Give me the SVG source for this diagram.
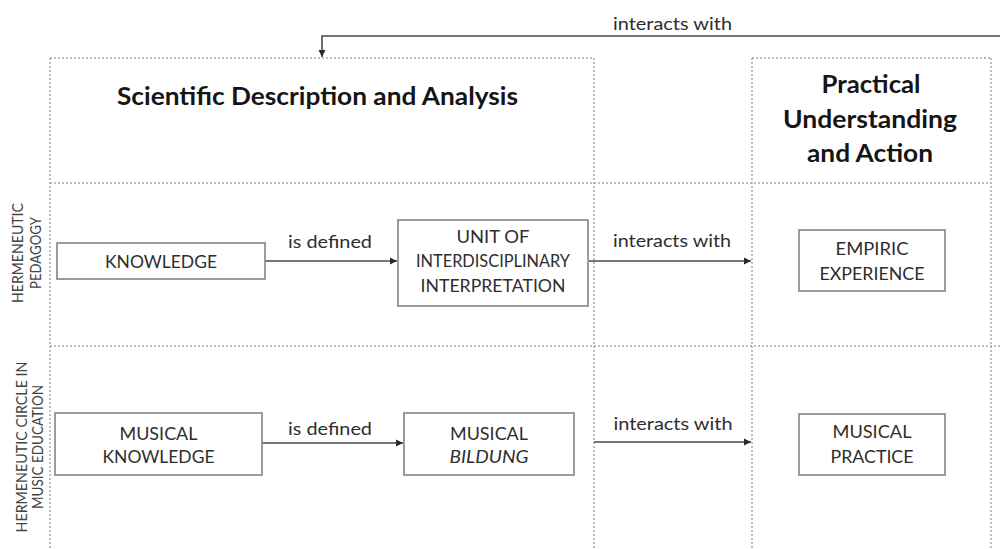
<svg xmlns="http://www.w3.org/2000/svg" width="1000" height="549" viewBox="0 0 1000 549">
<style>
.grid{stroke:#a4a9b4;stroke-width:1.5;stroke-dasharray:2 2;fill:none}
.box{fill:#fff;stroke:#868b96;stroke-width:1.7}
.conn{stroke:#4a4a4a;stroke-width:1.6;fill:none}
.t{font-family:Lato,"Open Sans","Liberation Sans",sans-serif;text-anchor:middle}
.title{font-size:25px;font-weight:bold;fill:#151515}
.node{font-size:18px;fill:#2e2e2e}
.lab{font-size:18px;fill:#2e2e2e}
.side{font-size:15px;fill:#444}
</style>
<defs>
<marker id="ah" markerUnits="userSpaceOnUse" markerWidth="10" markerHeight="10" refX="7" refY="4" orient="auto">
<path d="M0,0.5 L7,4 L0,7.5 Z" fill="#2a2a2a"/>
</marker>
</defs>
<rect width="1000" height="549" fill="#fff"/>
<g id="grid">
<line class="grid" x1="50" y1="58" x2="594" y2="58"/>
<line class="grid" x1="752" y1="58" x2="991" y2="58"/>
<line class="grid" x1="50" y1="183" x2="991" y2="183"/>
<line class="grid" x1="50" y1="346" x2="1000" y2="346"/>
<line class="grid" x1="50" y1="58" x2="50" y2="549"/>
<line class="grid" x1="594" y1="58" x2="594" y2="549"/>
<line class="grid" x1="752" y1="58" x2="752" y2="549"/>
<line class="grid" x1="991" y1="58" x2="991" y2="549"/>
</g>
<g id="title-scientific">
<text class="t title" x="317.5" y="105" textLength="401" lengthAdjust="spacingAndGlyphs">Scientific Description and Analysis</text>
</g>
<g id="title-practical">
<text class="t title" x="871" y="93" textLength="99" lengthAdjust="spacingAndGlyphs">Practical</text>
<text class="t title" x="870" y="128" textLength="174" lengthAdjust="spacingAndGlyphs">Understanding</text>
<text class="t title" x="870" y="162" textLength="126" lengthAdjust="spacingAndGlyphs">and Action</text>
</g>
<g id="side-row1">
<text class="t side" transform="translate(23,253) rotate(-90)" textLength="100" lengthAdjust="spacingAndGlyphs">HERMENEUTIC</text>
<text class="t side" transform="translate(41,253) rotate(-90)" textLength="72" lengthAdjust="spacingAndGlyphs">PEDAGOGY</text>
</g>
<g id="side-row2">
<text class="t side" transform="translate(27,447) rotate(-90)" textLength="171" lengthAdjust="spacingAndGlyphs">HERMENEUTIC CIRCLE IN</text>
<text class="t side" transform="translate(43,447) rotate(-90)" textLength="124" lengthAdjust="spacingAndGlyphs">MUSIC EDUCATION</text>
</g>
<g id="connectors">
<path class="conn" d="M1000,36 H322 V57" marker-end="url(#ah)"/>
<text class="t lab" x="672.5" y="30" textLength="119" lengthAdjust="spacingAndGlyphs">interacts with</text>
<path class="conn" d="M265,261 H397" marker-end="url(#ah)"/>
<text class="t lab" x="330" y="248" textLength="84" lengthAdjust="spacingAndGlyphs">is defined</text>
<path class="conn" d="M589,261 H751" marker-end="url(#ah)"/>
<text class="t lab" x="672" y="247" textLength="118" lengthAdjust="spacingAndGlyphs">interacts with</text>
<path class="conn" d="M262,443 H403" marker-end="url(#ah)"/>
<text class="t lab" x="330" y="435" textLength="84" lengthAdjust="spacingAndGlyphs">is defined</text>
<path class="conn" d="M594,442 H751" marker-end="url(#ah)"/>
<text class="t lab" x="673" y="430" textLength="119" lengthAdjust="spacingAndGlyphs">interacts with</text>
</g>
<g id="knowledge">
<rect class="box" x="57" y="243" width="208" height="36"/>
<text class="t node" x="161" y="268" textLength="112" lengthAdjust="spacingAndGlyphs">KNOWLEDGE</text>
</g>
<g id="unit">
<rect class="box" x="398" y="220" width="190" height="86"/>
<text class="t node" x="493" y="243" textLength="73" lengthAdjust="spacingAndGlyphs">UNIT OF</text>
<text class="t node" x="493" y="267" textLength="154" lengthAdjust="spacingAndGlyphs">INTERDISCIPLINARY</text>
<text class="t node" x="493" y="292" textLength="145" lengthAdjust="spacingAndGlyphs">INTERPRETATION</text>
</g>
<g id="empiric">
<rect class="box" x="799" y="230" width="146" height="61"/>
<text class="t node" x="872" y="255" textLength="73" lengthAdjust="spacingAndGlyphs">EMPIRIC</text>
<text class="t node" x="872" y="280" textLength="105" lengthAdjust="spacingAndGlyphs">EXPERIENCE</text>
</g>
<g id="musical-knowledge">
<rect class="box" x="55" y="413" width="207" height="62"/>
<text class="t node" x="158.5" y="440" textLength="78" lengthAdjust="spacingAndGlyphs">MUSICAL</text>
<text class="t node" x="158.5" y="463" textLength="112" lengthAdjust="spacingAndGlyphs">KNOWLEDGE</text>
</g>
<g id="musical-bildung">
<rect class="box" x="404" y="413" width="170" height="62"/>
<text class="t node" x="489" y="440" textLength="78" lengthAdjust="spacingAndGlyphs">MUSICAL</text>
<text class="t node" x="489" y="463" font-style="italic" textLength="79" lengthAdjust="spacingAndGlyphs">BILDUNG</text>
</g>
<g id="musical-practice">
<rect class="box" x="799" y="414" width="146" height="61"/>
<text class="t node" x="872" y="438" textLength="79" lengthAdjust="spacingAndGlyphs">MUSICAL</text>
<text class="t node" x="872" y="463" textLength="83" lengthAdjust="spacingAndGlyphs">PRACTICE</text>
</g>
</svg>
